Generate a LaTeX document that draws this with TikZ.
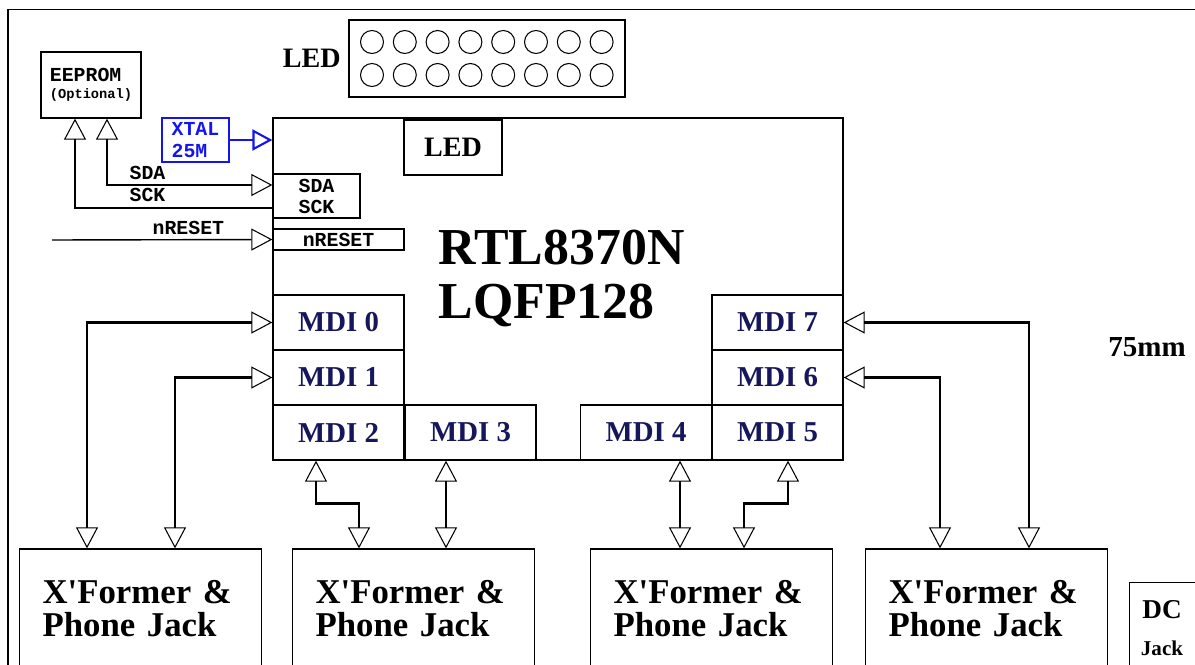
\documentclass[tikz,border=0pt]{standalone}
\usepackage{fontspec}
\setmainfont{Liberation Serif}[Ligatures=TeXOff]
\setmonofont{Liberation Mono}
\usetikzlibrary{arrows.meta,positioning}
\definecolor{mdinavy}{RGB}{22,22,92}
\definecolor{xtalblue}{RGB}{20,20,240}

\begin{document}
\begin{tikzpicture}[x=0.02cm,y=-0.02cm,line width=0.75pt,
  hollow/.tip={Triangle[open,length=0.42cm,width=0.44cm,line width=0.6pt]},
  bluetip/.tip={Triangle[open,length=0.4cm,width=0.42cm,line width=1.2pt]},
  box/.style={draw,inner sep=0pt},
  mdi/.style={box,minimum width=2.62cm,minimum height=1.1cm,text=mdinavy,
    font=\fontsize{16.4}{18}\selectfont\bfseries},
  xfbox/.style={draw,minimum width=4.84cm,minimum height=2.4cm,inner xsep=0.46cm,
    text width=3.92cm,align=left,font=\fontsize{19.8}{18.7}\selectfont\bfseries},
  big/.style={inner sep=0pt,font=\fontsize{16}{18}\selectfont\bfseries},
  code/.style={inner sep=0pt,font=\fontsize{11.3}{#1}\selectfont\ttfamily\bfseries},
  code/.default=12,
  sig/.style={line width=0.8pt},
  port/.style={line width=1.4pt,arrows={hollow-hollow}}]
  \useasboundingbox (0,0) rectangle (1195,665);
  \draw[line width=0.8pt] (8,668) -- (8,9.5) -- (1197,9.5);

  \node[box,minimum width=5.52cm,minimum height=1.54cm] (ledbar) at (487,58.5) {};
  \foreach \i in {0,...,7}
    \foreach \j in {42,75}
      \draw[line width=0.6pt] (372+32.8*\i,\j) circle[radius=0.23cm];
  \node[big,left=0.14cm of ledbar] (ledlbl) {LED};

  \node[box,minimum width=11.4cm,minimum height=6.84cm] (chip) at (558,289) {};
  \node[anchor=base west,inner sep=0pt,font=\fontsize{29.5}{30}\selectfont\bfseries]
    (title1) at (438,264) {RTL8370N};
  \node[anchor=base west,inner sep=0pt,font=\fontsize{29.5}{30}\selectfont\bfseries]
    (title2) at (438,318) {LQFP128};
  \node[box,big,minimum width=1.96cm,minimum height=1.1cm] (ledin) at (453,147.5) {LED};

  \node[box,code=9.5,minimum width=2cm,minimum height=1.32cm,align=left] (eeprom)
    at (91,85) {EEPROM\\{\fontsize{7.8}{9.5}\selectfont(Optional)}};
  \node[box,code=12.5,draw=xtalblue,text=xtalblue,line width=1.3pt,minimum width=1.34cm,
    minimum height=0.88cm,align=left] (xtal) at (195.5,140) {XTAL\\25M};
  \node[box,code,minimum width=1.74cm,minimum height=0.88cm,align=left] (i2c)
    at (316.5,196) {SDA\\SCK};
  \node[box,code,minimum width=2.62cm,minimum height=0.42cm] (rstbox) at (338.5,239.5) {nRESET};

  \node[code,anchor=base west] (sdalbl) at (129,180) {SDA};
  \node[code,anchor=base west] (scklbl) at (129,202) {SCK};
  \node[code,anchor=base west] (rstlbl) at (152,235) {nRESET};
  \coordinate (rstin) at (52,240);

  \draw[sig,arrows={hollow-hollow}] ([yshift=0.22cm]i2c.west) -| (eeprom.south -| 107,0);
  \draw[sig,-hollow] ([yshift=-0.24cm]i2c.west) -| (eeprom.south -| 75,0);
  \draw[sig,-hollow] (rstin) -- (rstbox.west);
  \draw[xtalblue,line width=1.3pt,-bluetip] (xtal.east) -- (xtal.east -| chip.west);

  \foreach \n/\x/\y in {0/338.5/322.5,1/338.5/377.5,2/338.5/432.5,3/470.5/432.5,
                        4/646/432.5,5/777.5/432.5,6/777.5/377.5,7/777.5/322.5}
    \node[mdi] (mdi\n) at (\x,\y) {MDI \n};

  \foreach \n/\x in {1/140.5,2/413.5,3/711.5,4/986.5}
    \node[xfbox] (xf\n) at (\x,609) {X'Former \&\\Phone Jack};

  \draw[port] (mdi0.west) -| (xf1.north -| 87,0);
  \draw[port] (mdi1.west) -| (xf1.north -| 175,0);
  \draw[port] (mdi2.south -| 316,0) -- ++(0,43) -| (xf2.north -| 359,0);
  \draw[port] (mdi3.south -| 446,0) -- (xf2.north -| 446,0);
  \draw[port] (mdi4.south -| 680,0) -- (xf3.north -| 680,0);
  \draw[port] (mdi5.south -| 788,0) -- ++(0,43) -| (xf3.north -| 744,0);
  \draw[port] (mdi6.east) -| (xf4.north -| 940,0);
  \draw[port] (mdi7.east) -| (xf4.north -| 1029,0);

  \node[anchor=base,inner sep=0pt,font=\fontsize{16.5}{18}\selectfont\bfseries]
    (sizelbl) at (1147,356) {75mm};
  \node[box,minimum width=1.64cm,minimum height=1.92cm,anchor=north west] (dcjack)
    at (1129,582) {};
  \node[align=center,inner sep=0pt,font=\fontsize{15.5}{21.5}\selectfont\bfseries]
    (dctxt) at (1162,628) {DC\\{\fontsize{12}{21.5}\selectfont Jack}};
\end{tikzpicture}
\end{document}
